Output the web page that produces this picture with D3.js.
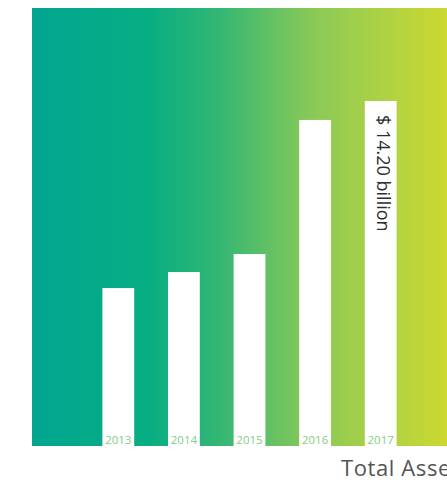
<!DOCTYPE html>
<html>
<head>
<meta charset="utf-8">
<script src="https://cdn.jsdelivr.net/npm/d3@7/dist/d3.min.js"></script>
<style>
  html, body { margin: 0; padding: 0; background: #fff; }
  svg { display: block; }
</style>
</head>
<body>
<svg id="chart" width="447" height="480"></svg>
<script>
// Total assets by year (USD billion)
const years = ["2013", "2014", "2015", "2016", "2017"];
const assets = [6.5, 7.16, 7.9, 13.42, 14.2];
const valueLabel = "$ 14.20 billion";
const title = "Total Assets";

(function () {
  const svg = d3.select("#chart");
  const W = 447;

  // background gradient: teal on the left to lime on the right
  const defs = svg.append("defs");
  const grad = defs.append("linearGradient")
    .attr("id", "bg")
    .attr("gradientUnits", "userSpaceOnUse")
    .attr("x1", 32).attr("y1", 0).attr("x2", 447).attr("y2", 0);
  [
    [0, "#02a690"],
    [0.28, "#07ae83"],
    [0.45, "#33b674"],
    [0.55, "#5abf67"],
    [0.68, "#8bc957"],
    [0.85, "#aed244"],
    [1, "#cbd82f"]
  ].forEach(([o, c]) => grad.append("stop").attr("offset", o).attr("stop-color", c));

  const plotTop = 8, plotBottom = 446;
  svg.append("rect")
    .attr("x", 32).attr("y", plotTop)
    .attr("width", W - 32).attr("height", plotBottom - plotTop)
    .attr("fill", "url(#bg)");

  const x = d3.scaleBand()
    .domain(years)
    .range([85.5, 413.5])
    .paddingInner(0.515)
    .paddingOuter(0.2575);

  const y = d3.scaleLinear()
    .domain([0, 14.2])
    .range([plotBottom, 101]);

  const data = years.map((yr, i) => ({ year: yr, value: assets[i] }));

  svg.append("g").selectAll("rect")
    .data(data)
    .join("rect")
    .attr("x", d => x(d.year))
    .attr("y", d => y(d.value))
    .attr("width", x.bandwidth())
    .attr("height", d => y(0) - y(d.value))
    .attr("fill", "#ffffff");

  // year labels inside the bars
  svg.append("g").selectAll("text")
    .data(data)
    .join("text")
    .attr("x", d => x(d.year) + x.bandwidth() / 2)
    .attr("y", 444)
    .attr("text-anchor", "middle")
    .attr("font-family", "'Open Sans', sans-serif")
    .attr("font-size", 11.5)
    .attr("fill", "#86cc84")
    .text(d => d.year);

  // value of the latest year, written down the bar
  const last = data[data.length - 1];
  const lx = x(last.year) + x.bandwidth() / 2 - 3.5;
  const ly = y(last.value) + 14;
  svg.append("text")
    .attr("transform", `translate(${lx},${ly}) rotate(90)`)
    .attr("font-family", "'Open Sans', sans-serif")
    .attr("font-size", 18)
    .attr("fill", "#2e2e2e")
    .text(valueLabel);

  // title runs off the right edge of the page
  svg.append("text")
    .attr("x", 341)
    .attr("y", 476)
    .attr("font-family", "'Open Sans', sans-serif")
    .attr("font-size", 22)
    .attr("letter-spacing", 0.6)
    .attr("fill", "#555555")
    .text(title);
})();
</script>
</body>
</html>
